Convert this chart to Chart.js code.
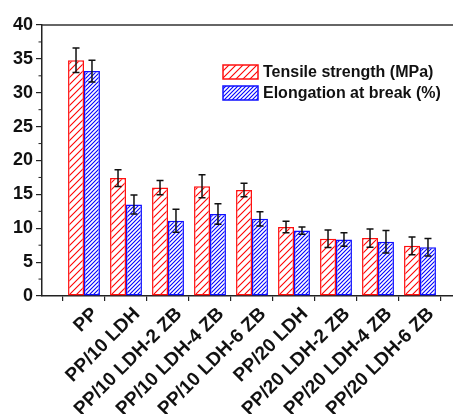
<!DOCTYPE html>
<html lang="en">

<head>
    <meta charset="UTF-8">
    <title>Tensile properties</title>
    <style>
        html, body { margin: 0; padding: 0; background: #fff; overflow: hidden; }
    </style>
</head>

<body>
    <canvas id="myChart" width="462" height="414"></canvas>
    <script src="https://cdn.jsdelivr.net/npm/chart.js"></script>

    <script>
        const categories = ["PP", "PP/10 LDH", "PP/10 LDH-2 ZB", "PP/10 LDH-4 ZB", "PP/10 LDH-6 ZB",
            "PP/20 LDH", "PP/20 LDH-2 ZB", "PP/20 LDH-4 ZB", "PP/20 LDH-6 ZB"];
        const tensile = [34.8, 17.4, 16.0, 16.2, 15.65, 10.2, 8.45, 8.55, 7.4];
        const tensileErr = [1.8, 1.25, 1.05, 1.7, 1.0, 0.85, 1.3, 1.35, 1.3];
        const elongation = [33.2, 13.5, 11.1, 12.1, 11.4, 9.65, 8.35, 8.0, 7.2];
        const elongationErr = [1.6, 1.4, 1.7, 1.5, 1.05, 0.55, 1.0, 1.65, 1.3];
        const yMin = 0, yMax = 40, yStep = 5;

        const FONT = "'Liberation Sans', Arial, sans-serif";

        // hatch fill like origin's "////" pattern
        function hatch(color, size) {
            let c = document.createElement("canvas");
            c.width = size;
            c.height = size;
            let g = c.getContext("2d");
            g.fillStyle = "#fff";
            g.fillRect(0, 0, size, size);
            g.strokeStyle = color;
            g.lineWidth = 1.1;
            g.beginPath();
            g.moveTo(-1, size + 1); g.lineTo(size + 1, -1);
            g.moveTo(-1, 1); g.lineTo(1, -1);
            g.moveTo(size - 1, size + 1); g.lineTo(size + 1, size - 1);
            g.stroke();
            return g.createPattern(c, "repeat");
        }

        // empty slot on each side, like the original axis
        let v_labels = [""].concat(categories).concat([""]);
        let pad = (arr) => [null].concat(arr).concat([null]);

        let v_datasets = [
            {
                label: "Tensile strength (MPa)",
                data: pad(tensile),
                err: pad(tensileErr),
                backgroundColor: hatch("#ff0000", 7),
                borderColor: "#ff1010",
                borderWidth: 1.5,
                borderSkipped: false
            },
            {
                label: "Elongation at break (%)",
                data: pad(elongation),
                err: pad(elongationErr),
                backgroundColor: hatch("#0000ff", 4),
                borderColor: "#1010ff",
                borderWidth: 1.5,
                borderSkipped: false
            }
        ];

        const extras = {
            id: "extras",
            afterDatasetsDraw(chart) {
                let g = chart.ctx;
                let y = chart.scales.y;
                let area = chart.chartArea;
                g.save();

                // error bars
                g.strokeStyle = "#111";
                g.lineWidth = 1.5;
                chart.data.datasets.forEach((ds, d) => {
                    let meta = chart.getDatasetMeta(d);
                    meta.data.forEach((bar, i) => {
                        let v = ds.data[i];
                        if (v === null) return;
                        let t = y.getPixelForValue(v + ds.err[i]);
                        let b = y.getPixelForValue(v - ds.err[i]);
                        g.beginPath();
                        g.moveTo(bar.x, t); g.lineTo(bar.x, b);
                        g.moveTo(bar.x - 3.5, t); g.lineTo(bar.x + 3.5, t);
                        g.moveTo(bar.x - 3.5, b); g.lineTo(bar.x + 3.5, b);
                        g.stroke();
                    });
                });

                // top frame line
                g.strokeStyle = "#333";
                g.lineWidth = 1.5;
                g.beginPath();
                g.moveTo(area.left, area.top);
                g.lineTo(area.right, area.top);
                g.stroke();

                // minor ticks on y
                g.strokeStyle = "#222";
                g.lineWidth = 1;
                let ticks = y.ticks;
                for (let k = 0; k < ticks.length - 1; k++) {
                    let p = y.getPixelForValue((ticks[k].value + ticks[k + 1].value) / 2);
                    g.beginPath();
                    g.moveTo(area.left - 3.5, p);
                    g.lineTo(area.left, p);
                    g.stroke();
                }

                // legend inside the plot
                let lx = 223, ly = 65;
                chart.data.datasets.forEach((ds, d) => {
                    let yy = ly + d * 21;
                    g.fillStyle = ds.backgroundColor;
                    g.fillRect(lx, yy, 35, 14);
                    g.strokeStyle = ds.borderColor;
                    g.lineWidth = 1.5;
                    g.strokeRect(lx, yy, 35, 14);
                    g.fillStyle = "#111";
                    g.font = "bold 16px " + FONT;
                    g.textBaseline = "middle";
                    g.textAlign = "left";
                    g.fillText(ds.label, lx + 40, yy + 8);
                });
                g.restore();
            }
        };

        const ctx = document.getElementById("myChart");

        new Chart(ctx, {
            type: "bar",
            data: {
                labels: v_labels,
                datasets: v_datasets
            },
            plugins: [extras],
            options: {
                responsive: false,
                animation: false,
                layout: { padding: { top: 25, left: 0, right: 0, bottom: 0 } },
                datasets: {
                    bar: { categoryPercentage: 0.76, barPercentage: 1.0 }
                },
                plugins: {
                    legend: { display: false },
                    tooltip: { enabled: false }
                },
                scales: {
                    x: {
                        offset: false,
                        afterFit: (s) => { s.height = 118; s.paddingLeft = 0; s.paddingRight = 0; },
                        border: { color: "#222", width: 1.5 },
                        grid: { drawOnChartArea: false, color: "#222", tickLength: 5, lineWidth: 1.2 },
                        ticks: {
                            autoSkip: false,
                            minRotation: 45,
                            maxRotation: 45,
                            labelOffset: 11,
                            padding: 2,
                            color: "#111",
                            font: { family: FONT, size: 19, weight: "bold" }
                        }
                    },
                    y: {
                        min: yMin,
                        max: yMax,
                        afterFit: (s) => { s.width = 42; },
                        border: { color: "#222", width: 1.5 },
                        grid: { drawOnChartArea: false, color: "#222", tickLength: 6, lineWidth: 1.2 },
                        ticks: {
                            stepSize: yStep,
                            padding: 3,
                            color: "#111",
                            font: { family: FONT, size: 18, weight: "bold" }
                        }
                    }
                }
            }
        });
    </script>
</body>

</html>
